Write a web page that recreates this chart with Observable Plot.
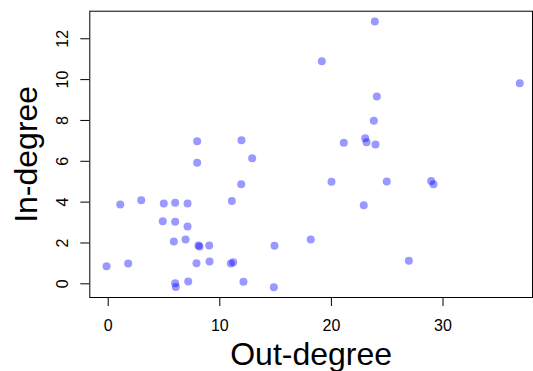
<!DOCTYPE html>
<html>
<head>
<meta charset="utf-8">
<script src="https://cdn.jsdelivr.net/npm/d3@7"></script>
<script src="https://cdn.jsdelivr.net/npm/@observablehq/plot@0.6"></script>
<style>
  html, body { margin: 0; padding: 0; background: #fff; }
  #chart { width: 533px; height: 371px; }
</style>
</head>
<body>
<div id="chart"></div>
<script>
const outDegree = [7.97, 11.94, 12.90, 7.97, 11.92, 1.08, 2.96, 4.98, 6.00, 7.11, 11.08, 4.89, 6.00, 7.11, 5.88, 6.93, 8.09, 8.18, 9.05, 14.90, -0.15, 1.79, 7.91, 9.08, 10.99, 11.20, 12.12, 14.84, 6.00, 6.06, 7.17, 23.89, 19.14, 36.88, 24.07, 23.80, 21.11, 23.03, 23.15, 23.95, 20.01, 24.96, 28.94, 29.15, 22.90, 18.15, 26.94];
const inDegree = [6.98, 7.03, 6.15, 5.93, 4.88, 3.88, 4.09, 3.93, 3.97, 3.93, 4.06, 3.07, 3.04, 2.81, 2.07, 2.17, 1.88, 1.83, 1.88, 1.86, 0.86, 0.99, 1.01, 1.09, 0.99, 1.06, 0.10, -0.17, 0.03, -0.15, 0.11, 12.85, 10.90, 9.82, 9.17, 7.98, 6.91, 7.13, 6.93, 6.82, 5.00, 5.01, 5.04, 4.88, 3.85, 2.17, 1.13];
const xTicks = [0, 10, 20, 30];
const yTicks = [0, 2, 4, 6, 8, 10, 12];
const xLabel = "Out-degree";
const yLabel = "In-degree";

const data = outDegree.map((x, i) => ({x, y: inDegree[i]}));

const chart = Plot.plot({
  width: 533,
  height: 371,
  marginLeft: 89.3,
  marginRight: 1,
  marginTop: 10.7,
  marginBottom: 74,
  style: {fontFamily: "'Liberation Sans', Arial, sans-serif", background: "#fff", color: "#000"},
  x: {domain: [-1.65, 38.02]},
  y: {domain: [-0.67, 13.35]},
  marks: [
    Plot.frame({stroke: "#000", strokeWidth: 1}),
    Plot.axisX({
      ticks: xTicks, tickSize: 9, tickPadding: 13, fontSize: 16,
      label: xLabel, labelAnchor: "center", labelArrow: "none", labelOffset: 67
    }),
    Plot.axisY({
      ticks: yTicks, tickSize: 9, tickPadding: 13, tickRotate: -90, fontSize: 16,
      label: yLabel, labelAnchor: "center", labelArrow: "none", labelOffset: 76
    }),
    Plot.dot(data, {x: "x", y: "y", r: 4, fill: "blue", fillOpacity: 0.4, stroke: "none"})
  ]
});
chart.querySelectorAll('g[aria-label="x-axis tick label"], g[aria-label="y-axis tick label"]').forEach(g => g.setAttribute("font-size", 16));
chart.querySelectorAll('g[aria-label="x-axis label"], g[aria-label="y-axis label"]').forEach(g => g.setAttribute("font-size", 32));
document.getElementById("chart").appendChild(chart);
</script>
</body>
</html>
